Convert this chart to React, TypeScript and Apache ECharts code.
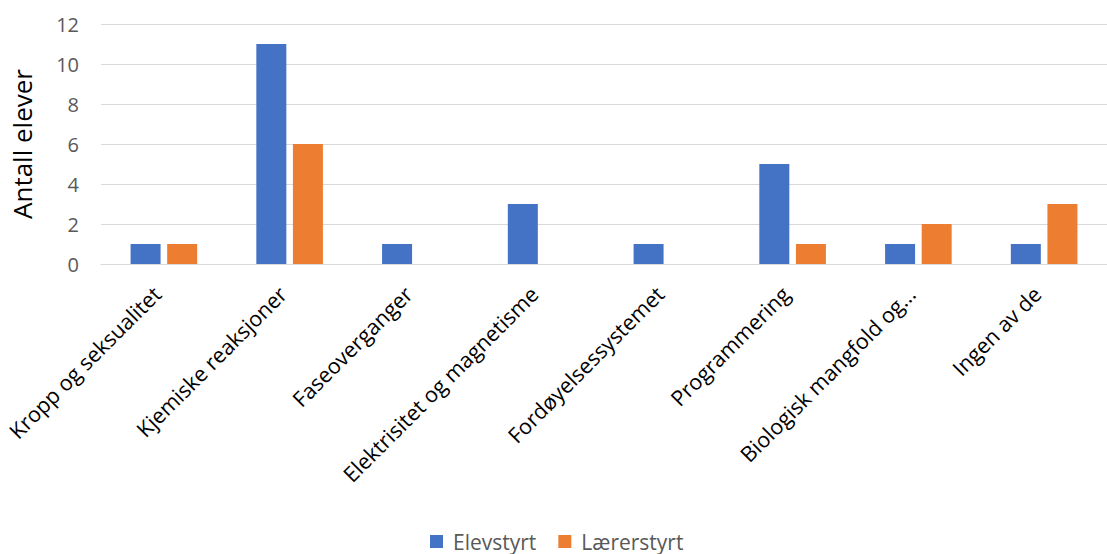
import React, { useEffect, useRef } from "react";
import * as echarts from "echarts";

const categories = [
  "Kropp og seksualitet",
  "Kjemiske reaksjoner",
  "Faseoverganger",
  "Elektrisitet og magnetisme",
  "Fordøyelsessystemet",
  "Programmering",
  "Biologisk mangfold og...",
  "Ingen av de",
];
const elevstyrt = [1, 11, 1, 3, 1, 5, 1, 1];
const lærerstyrt = [1, 6, 0, 0, 0, 1, 2, 3];
const yTicks = { min: 0, max: 12, interval: 2 };

const FONT = "'Open Sans', 'Noto Sans', sans-serif";

export default function App() {
  const ref = useRef<HTMLDivElement>(null);
  useEffect(() => {
    if (!ref.current) return;
    const chart = echarts.init(ref.current, null, { renderer: "svg" });
    chart.setOption({
      animation: false,
      grid: { left: 101, right: -6, top: 24, bottom: 290 },
      legend: {
        top: 526,
        left: 425,
        itemWidth: 13,
        itemHeight: 13,
        itemGap: 22,
        icon: "rect",
        textStyle: { fontFamily: FONT, fontSize: 21, color: "#595959", padding: [0, 0, 0, 5] },
        data: ["Elevstyrt", "Lærerstyrt"],
      },
      xAxis: {
        type: "category",
        data: categories,
        axisLine: { lineStyle: { color: "#d9d9d9" } },
        axisTick: { show: false },
        axisLabel: {
          rotate: 45,
          interval: 0,
          margin: 19,
          padding: [0, 10, 0, 0],
          fontFamily: FONT,
          fontSize: 21.5,
          color: "#000000",
        },
      },
      yAxis: {
        type: "value",
        min: yTicks.min,
        max: yTicks.max,
        interval: yTicks.interval,
        name: "Antall elever",
        nameLocation: "middle",
        nameGap: 66,
        nameTextStyle: { fontFamily: FONT, fontSize: 26, color: "#000000" },
        axisLabel: { fontFamily: FONT, fontSize: 20, color: "#595959", margin: 22 },
        splitLine: { lineStyle: { color: "#d9d9d9", width: 1 } },
        axisLine: { show: false },
        axisTick: { show: false },
      },
      series: [
        {
          name: "Elevstyrt",
          type: "bar",
          data: elevstyrt,
          barWidth: 30,
          barGap: "22%",
          itemStyle: { color: "#4472C4" },
        },
        {
          name: "Lærerstyrt",
          type: "bar",
          data: lærerstyrt,
          barWidth: 30,
          itemStyle: { color: "#ED7D31" },
        },
      ],
    });
    return () => chart.dispose();
  }, []);
  return <div ref={ref} style={{ width: 1107, height: 554, position: "absolute", left: 0, top: 0 }} />;
}
